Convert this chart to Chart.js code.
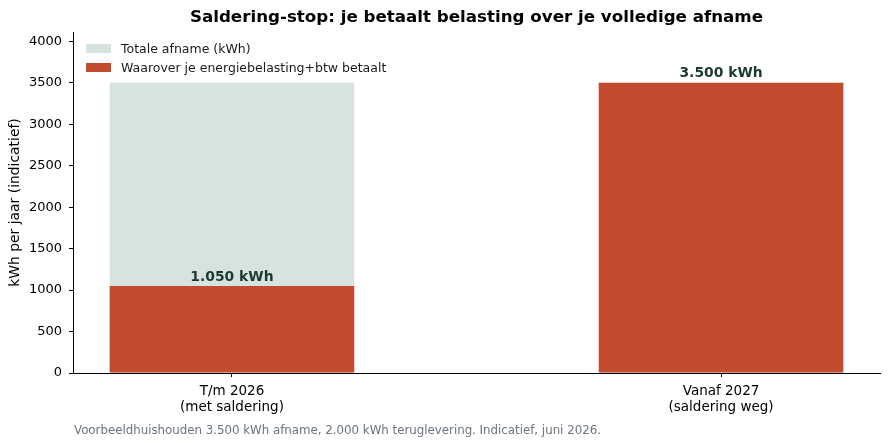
<!DOCTYPE html>
<html>
<head>
<meta charset="utf-8">
<script src="https://cdn.jsdelivr.net/npm/chart.js@4"></script>
<style>
  html, body { margin: 0; padding: 0; background: #fff; }
  #wrap { width: 889px; height: 447px; position: relative; }
</style>
</head>
<body>
<div id="wrap"><canvas id="saldering"></canvas></div>
<script>
// data
const categories = [['T/m 2026', '(met saldering)'], ['Vanaf 2027', '(saldering weg)']];
const totalAfname = [3500, 3500];
const belast = [1050, 3500];
const yTicks = [0, 500, 1000, 1500, 2000, 2500, 3000, 3500, 4000];
const seriesNames = ['Totale afname (kWh)', 'Waarover je energiebelasting+btw betaalt'];
const titleText = 'Saldering-stop: je betaalt belasting over je volledige afname';
const noteText = 'Voorbeeldhuishouden 3.500 kWh afname, 2.000 kWh teruglevering. Indicatief, juni 2026.';

const FONT = "'DejaVu Sans', sans-serif";
const lightCol = '#d6e3de';
const redCol = '#c24b30';

function fmt(v) {
  return String(v).replace(/\B(?=(\d{3})+(?!\d))/g, '.') + ' kWh';
}

// title, legend, value labels and note
const extras = {
  id: 'extras',
  afterDraw(chart) {
    const c = chart.ctx;
    const area = chart.chartArea;
    const x = chart.scales.x, y = chart.scales.y;
    c.save();

    c.fillStyle = '#000';
    c.font = 'bold 16.7px ' + FONT;
    c.textAlign = 'center';
    c.textBaseline = 'middle';
    c.fillText(titleText, (area.left + area.right) / 2, 18);

    // legend
    const cols = [lightCol, redCol];
    c.font = '12.5px ' + FONT;
    c.textAlign = 'left';
    seriesNames.forEach((name, i) => {
      const yy = 48.5 + i * 19;
      c.fillStyle = cols[i];
      c.fillRect(86, yy - 4.5, 25, 9);
      c.fillStyle = '#1a1a1a';
      c.fillText(name, 121, yy + 1);
    });

    // value labels
    c.font = 'bold 13.9px ' + FONT;
    c.fillStyle = '#1b3a30';
    c.textAlign = 'center';
    c.textBaseline = 'bottom';
    belast.forEach((v, i) => {
      c.fillText(fmt(v), x.getPixelForValue(i), y.getPixelForValue(v) - 2);
    });

    // note
    c.font = '11.8px ' + FONT;
    c.fillStyle = '#6b7280';
    c.textAlign = 'left';
    c.textBaseline = 'middle';
    c.fillText(noteText, 74, 431);
    c.restore();
  }
};

new Chart(document.getElementById('saldering'), {
  type: 'bar',
  data: {
    datasets: [
      {
        label: seriesNames[1],
        data: belast.map((v, i) => ({ x: i, y: v })),
        backgroundColor: redCol,
        grouped: false,
        order: 1
      },
      {
        label: seriesNames[0],
        data: totalAfname.map((v, i) => ({ x: i, y: v })),
        backgroundColor: lightCol,
        grouped: false,
        order: 2
      }
    ]
  },
  options: {
    responsive: true,
    maintainAspectRatio: false,
    animation: false,
    barPercentage: 0.5,
    categoryPercentage: 1,
    layout: { padding: { left: 0, right: 9, top: 32, bottom: 0 } },
    plugins: {
      legend: { display: false },
      title: { display: false },
      tooltip: { enabled: false }
    },
    scales: {
      x: {
        type: 'linear',
        offset: false,
        min: -0.325,
        max: 1.325,
        afterBuildTicks: s => { s.ticks = categories.map((c, i) => ({ value: i })); },
        afterFit: s => { s.height = 74; },
        grid: { offset: false, drawOnChartArea: false, drawTicks: true, tickLength: 4, color: '#000' },
        border: { display: true, color: '#000', width: 1 },
        ticks: {
          autoSkip: false,
          maxRotation: 0,
          padding: 6,
          color: '#000',
          font: { family: FONT, size: 13.5, lineHeight: 1.2 },
          callback: v => categories[v]
        }
      },
      y: {
        min: 0,
        max: 4112.5,
        afterBuildTicks: s => { s.ticks = yTicks.map(v => ({ value: v })); },
        afterFit: s => { s.width = 73; },
        grid: { drawOnChartArea: false, drawTicks: true, tickLength: 4, color: '#000' },
        border: { display: true, color: '#000', width: 1 },
        ticks: {
          padding: 7,
          color: '#000',
          font: { family: FONT, size: 13 },
          callback: v => String(v)
        },
        title: {
          display: true,
          text: 'kWh per jaar (indicatief)',
          color: '#000',
          font: { family: FONT, size: 13.9 },
          padding: { top: 7, bottom: 0 }
        }
      }
    }
  },
  plugins: [extras]
});
</script>
</body>
</html>
